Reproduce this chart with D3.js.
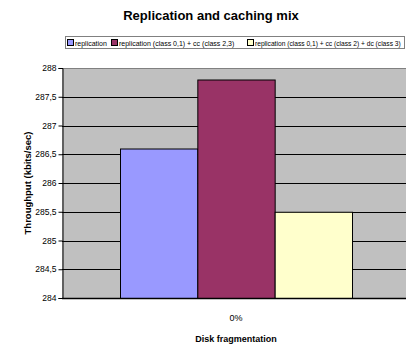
<!DOCTYPE html>
<html>
<head>
<meta charset="utf-8">
<script src="https://cdn.jsdelivr.net/npm/d3@7"></script>
<style>
  html, body { margin: 0; padding: 0; background: #fff; }
  svg { display: block; font-family: "Liberation Sans", Arial, sans-serif; }
  .legend-text { font-family: "Liberation Sans Narrow", "Arial Narrow", "Liberation Sans", Arial, sans-serif; }
</style>
</head>
<body>
<svg id="chart" width="406" height="345"></svg>
<script>
// Chart data
const categories = ["0%"];
const seriesNames = [
  "replication",
  "replication (class 0,1) + cc (class 2,3)",
  "replication (class 0,1) + cc (class 2) + dc (class 3)"
];
const seriesValues = [286.6, 287.8, 285.5];
const seriesColors = ["#9999ff", "#993366", "#ffffcc"];
const yTicks = [284, 284.5, 285, 285.5, 286, 286.5, 287, 287.5, 288];

const svg = d3.select("#chart");
const margin = { top: 68, right: -4, bottom: 47, left: 62 };
const W = 406, H = 345;
const innerW = W - margin.left - margin.right;
const innerH = H - margin.top - margin.bottom;

const g = svg.append("g").attr("transform", `translate(${margin.left},${margin.top})`);

const y = d3.scaleLinear().domain([284, 288]).range([innerH, 0]);
const x0 = d3.scaleBand().domain(categories).range([0, innerW]).paddingInner(0).paddingOuter(0.25);
const x1 = d3.scaleBand().domain(seriesNames).range([0, x0.bandwidth()]).padding(0);

// Plot background
g.append("rect").attr("x", 0).attr("y", 0).attr("width", innerW).attr("height", innerH)
  .attr("fill", "#c0c0c0");
g.append("line").attr("x1", 0).attr("x2", innerW).attr("y1", 0.5).attr("y2", 0.5)
  .attr("stroke", "#808080").attr("stroke-width", 1);

// Gridlines
g.append("g").selectAll("line").data(yTicks.filter(t => t > 284 && t < 288)).join("line")
  .attr("x1", 0).attr("x2", innerW)
  .attr("y1", d => Math.round(y(d)) + 0.5).attr("y2", d => Math.round(y(d)) + 0.5)
  .attr("stroke", "#000").attr("stroke-width", 1);

// Bars
const fmt = v => String(v).replace(".", ",");
categories.forEach(cat => {
  g.append("g").attr("transform", `translate(${x0(cat)},0)`)
    .selectAll("rect").data(seriesValues.map((v, i) => ({ v, name: seriesNames[i], c: seriesColors[i] })))
    .join("rect")
    .attr("x", d => x1(d.name) + 0.5)
    .attr("y", d => y(d.v) + 0.5)
    .attr("width", x1.bandwidth())
    .attr("height", d => innerH - y(d.v))
    .attr("fill", d => d.c)
    .attr("stroke", "#000").attr("stroke-width", 1);
});

// Y axis
const yAxis = d3.axisLeft(y).tickValues(yTicks).tickSize(4).tickPadding(2).tickFormat(fmt);
const ya = g.append("g").attr("transform", "translate(0.5,0)").call(yAxis);
ya.select(".domain").attr("stroke", "#000");
ya.selectAll(".tick line").attr("stroke", "#000");
ya.selectAll("text").attr("font-size", 8.5).attr("fill", "#000");

// X axis baseline
g.append("line").attr("x1", 0).attr("x2", innerW).attr("y1", innerH + 0.5).attr("y2", innerH + 0.5)
  .attr("stroke", "#000").attr("stroke-width", 1.5);

// X category label
g.append("g").selectAll("text").data(categories).join("text")
  .attr("x", d => x0(d) + x0.bandwidth() / 2)
  .attr("y", innerH + 23)
  .attr("text-anchor", "middle").attr("font-size", 9).attr("fill", "#000")
  .text(d => d);

// Titles
svg.append("text").attr("x", 211).attr("y", 20).attr("text-anchor", "middle")
  .attr("font-size", 13).attr("font-weight", "bold").text("Replication and caching mix");
svg.append("text").attr("x", x0(categories[0]) + margin.left + x0.bandwidth() / 2).attr("y", 342)
  .attr("text-anchor", "middle").attr("font-size", 9).attr("font-weight", "bold")
  .text("Disk fragmentation");
svg.append("text").attr("transform", `translate(31,${margin.top + innerH / 2}) rotate(-90)`)
  .attr("text-anchor", "middle").attr("font-size", 9.5).attr("font-weight", "bold")
  .text("Throughput (kbits/sec)");

// Legend
const legend = svg.append("g").attr("transform", "translate(65,36)");
legend.append("rect").attr("x", 0.5).attr("y", 0.5).attr("width", 339).attr("height", 12)
  .attr("fill", "#fff").attr("stroke", "#808080");
const legendX = [2, 46, 182];
seriesNames.forEach((name, i) => {
  const item = legend.append("g").attr("transform", `translate(${legendX[i]},3)`);
  item.append("rect").attr("x", 0.5).attr("y", 0.5).attr("width", 6).attr("height", 6)
    .attr("fill", seriesColors[i]).attr("stroke", "#000").attr("stroke-width", 1);
  item.append("text").attr("class", "legend-text").attr("x", 8).attr("y", 7).attr("font-size", 7)
    .attr("fill", "#000").text(name);
});
// Shrink legend labels to fit the box if the narrow face is unavailable
legend.selectAll("text").each(function (d, i) {
  const maxLen = [35, 126, 146][i];
  if (this.getComputedTextLength() > maxLen) {
    d3.select(this).attr("font-size", 7 * maxLen / this.getComputedTextLength());
  }
});
</script>
</body>
</html>
